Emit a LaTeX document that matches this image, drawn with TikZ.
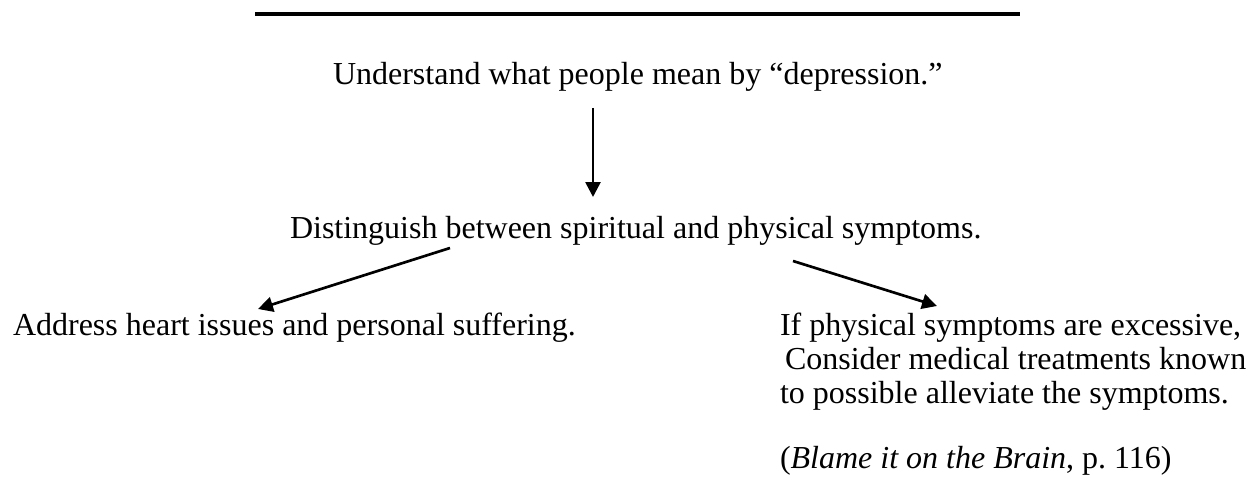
\documentclass[tikz,border=0pt]{standalone}
\usepackage{fontspec}
\setmainfont{Liberation Serif}
\usetikzlibrary{arrows.meta}
\tikzset{
  txt/.style={inner sep=0pt, outer sep=0pt, font=\fontsize{12}{13.8}\selectfont, anchor=base west},
  arr/.style={line width=1pt, -{Triangle[length=5.6pt,width=5.6pt]}},
  rulestyle/.style={line width=1.5pt}
}
\begin{document}
\begin{tikzpicture}[x=0.375pt,y=-0.375pt]
\useasboundingbox (0,0) rectangle (1252,498);
\coordinate (r1) at (255,14);
\coordinate (r2) at (1020,14);
\draw[rulestyle] (r1) -- (r2);
\node[txt] (t1) at (333,85) {Understand what people mean by “depression.”};
\node[txt] (t2) at (290,239) {Distinguish between spiritual and physical symptoms.};
\node[txt] (t3) at (13,336) {Address heart issues and personal suffering.};
\node[txt] (r1l) at (780,336) {If physical symptoms are excessive,};
\node[txt] (r2l) at (785,370) {Consider medical treatments known};
\node[txt] (r3l) at (780,404) {to possible alleviate the symptoms.};
\node[txt] (cite) at (780,469) {(\textit{Blame it on the Brain}, p.~116)};
\coordinate (a1s) at (593,108);
\coordinate (a1e) at (593,197);
\coordinate (a2s) at (450,248);
\coordinate (a2e) at (258,309);
\coordinate (a3s) at (793,261);
\coordinate (a3e) at (937,306);
\draw[arr] (a1s) -- (a1e);
\draw[arr] (a2s) -- (a2e);
\draw[arr] (a3s) -- (a3e);
\end{tikzpicture}
\end{document}
